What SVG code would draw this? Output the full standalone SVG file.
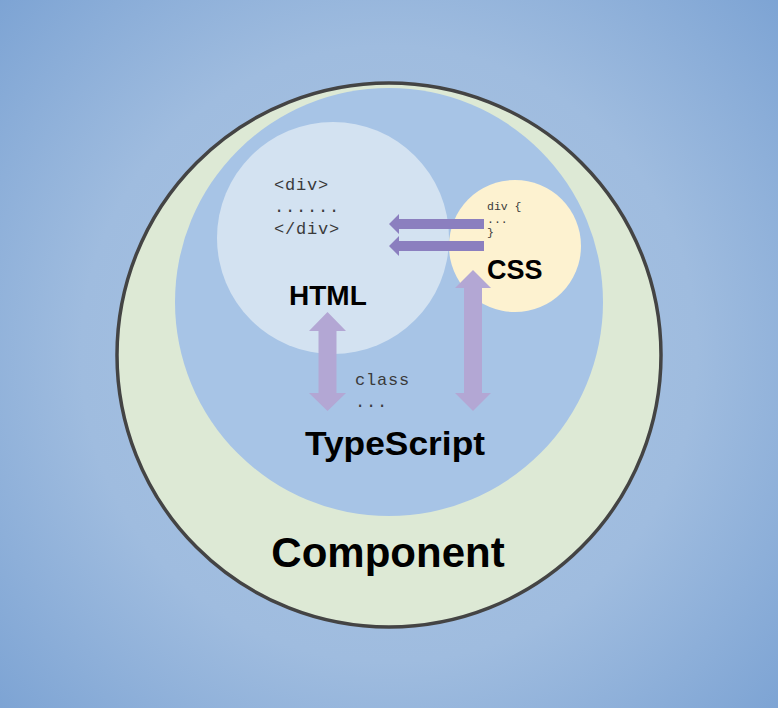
<svg xmlns="http://www.w3.org/2000/svg" width="778" height="708" viewBox="0 0 778 708">
<defs>
<radialGradient id="bg" cx="389" cy="354" r="560" gradientUnits="userSpaceOnUse">
<stop offset="0" stop-color="#aac4e2"/>
<stop offset="0.55" stop-color="#9fbcdf"/>
<stop offset="1" stop-color="#78a0d2"/>
</radialGradient>
<style>
.mono{font-family:"Liberation Mono","DejaVu Sans Mono",monospace;fill:#3a3a3a;}
.big{font-family:"Liberation Sans",Arial,sans-serif;font-weight:bold;fill:#000;}
.harrow{fill:#8b7fbf;}
.varrow{fill:#b3a7d4;}
</style>
</defs>
<rect x="0" y="0" width="778" height="708" fill="url(#bg)"/>
<g id="component">
<circle cx="389" cy="355" r="272" fill="#dde9d5" stroke="#444" stroke-width="3.5"/>
<text class="big" x="388" y="567" font-size="42" text-anchor="middle">Component</text>
</g>
<g id="typescript">
<circle cx="389" cy="302" r="214" fill="#a7c4e6"/>
<text class="mono" x="355" y="385" font-size="17" letter-spacing="0.8">class</text>
<text class="mono" x="355" y="407" font-size="17" letter-spacing="0.8">...</text>
<text class="big" x="305" y="455" font-size="34" textLength="180" lengthAdjust="spacingAndGlyphs">TypeScript</text>
</g>
<g id="html">
<circle cx="333" cy="238" r="116" fill="#d3e2f1"/>
<text class="mono" x="274" y="190" font-size="17" letter-spacing="0.8">&lt;div&gt;</text>
<text class="mono" x="274" y="212" font-size="17" letter-spacing="0.8">......</text>
<text class="mono" x="274" y="234" font-size="17" letter-spacing="0.8">&lt;/div&gt;</text>
<text class="big" x="289" y="305" font-size="28">HTML</text>
</g>
<g id="css">
<circle cx="515" cy="246" r="66" fill="#fdf2d0"/>
<text class="mono" x="487" y="210" font-size="11.5">div {</text>
<text class="mono" x="487" y="223" font-size="11.5">...</text>
<text class="mono" x="487" y="236" font-size="11.5">}</text>
<text class="big" x="487" y="279" font-size="27">CSS</text>
</g>
<g id="connectors">
<polygon class="harrow" points="389,224 399,214 399,219 484,219 484,229 399,229 399,234"/>
<polygon class="harrow" points="389,246 399,236 399,241 484,241 484,251 399,251 399,256"/>
<polygon class="varrow" points="327.5,312 346,331 336.5,331 336.5,393 346,393 327.5,411 309,393 318.5,393 318.5,331 309,331"/>
<polygon class="varrow" points="473,270 491,288 482,288 482,393 491,393 473,411 455,393 464,393 464,288 455,288"/>
</g>
</svg>
